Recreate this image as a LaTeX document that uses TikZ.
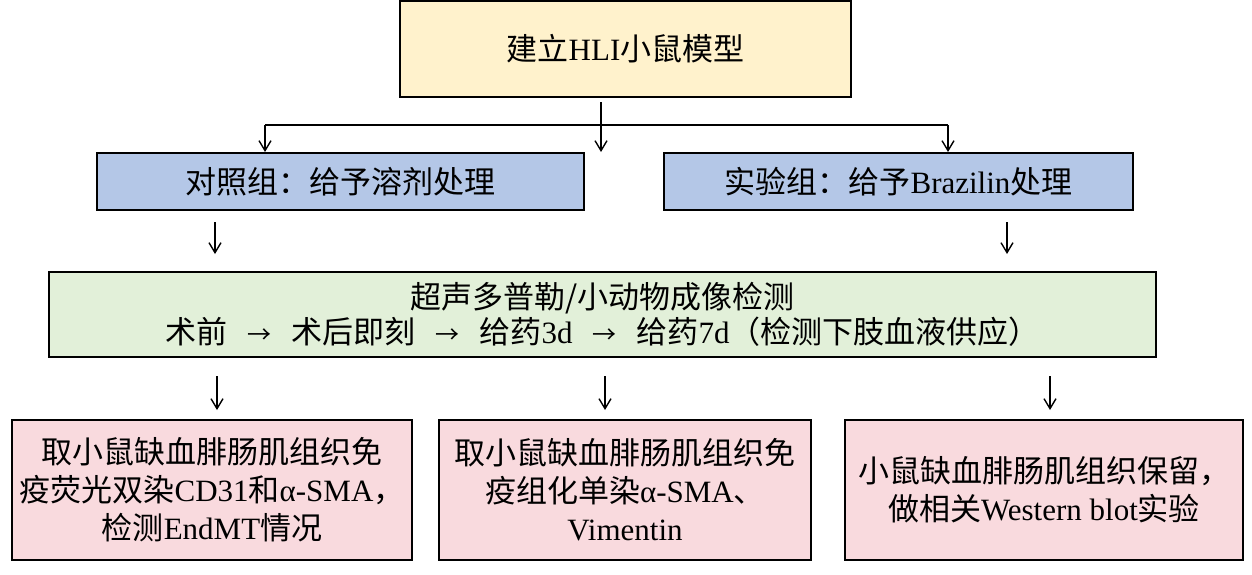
\documentclass[tikz,border=0pt]{standalone}
\usepackage{fontspec}
\setmainfont{Liberation Serif}
\newfontfamily\cjk{Noto Sans CJK SC}
\usetikzlibrary{arrows.meta}
\newcommand\C[1]{{\cjk #1}}
\newcommand\Arr{\hspace{10pt}{\fontsize{12pt}{12pt}\selectfont\cjk →}\hspace{10pt}}
\definecolor{topfill}{HTML}{FFF2CC}
\definecolor{bluefill}{HTML}{B4C7E7}
\definecolor{greenfill}{HTML}{E2F0D9}
\definecolor{pinkfill}{HTML}{F9DADE}
\begin{document}
\begin{tikzpicture}[x=0.5pt,y=-0.5pt,
  box/.style={draw=black,line width=1pt,rectangle,inner sep=0pt,align=center,
    font=\fontsize{15.5pt}{19pt}\selectfont},
  conn/.style={line width=0.7pt,-{Straight Barb[length=5pt,width=6pt]}},
  link/.style={line width=0.7pt}]
\useasboundingbox (0,0) rectangle (1252,574);
\node[box,fill=topfill,minimum width=225.5pt,minimum height=48pt] (top) at (625.5,49) {\C{建立}HLI\C{小鼠模型}};
\node[box,fill=bluefill,minimum width=243.5pt,minimum height=28.5pt] (ctrl) at (340.5,181.5) {\C{对照组：给予溶剂处理}};
\node[box,fill=bluefill,minimum width=234.5pt,minimum height=28.5pt] (exp) at (898.5,181.5) {\C{实验组：给予}Brazilin\C{处理}};
\node[box,fill=greenfill,minimum width=553.5pt,minimum height=42.5pt,font=\fontsize{15.5pt}{17.5pt}\selectfont] (img) at (602.5,314.5) {\C{超声多普勒/小动物成像检测}\\\C{术前}\Arr\C{术后即刻}\Arr\C{给药}3d\Arr\C{给药}7d\C{（检测下肢血液供应）}};
\node[box,fill=pinkfill,minimum width=200pt,minimum height=70pt] (p1) at (212,490) {\C{取小鼠缺血腓肠肌组织免}\\\C{疫荧光双染}CD31\C{和}α-SMA\C{，}\\\C{检测}EndMT\C{情况}};
\node[box,fill=pinkfill,minimum width=186pt,minimum height=70pt] (p2) at (625,490) {\C{取小鼠缺血腓肠肌组织免}\\\C{疫组化单染}α-SMA\C{、}\\Vimentin};
\node[box,fill=pinkfill,minimum width=199pt,minimum height=70pt] (p3) at (1044,490) {\C{小鼠缺血腓肠肌组织保留，}\\\C{做相关}Western blot\C{实验}};
% top split
\coordinate (s0) at (601,102);
\coordinate (sm) at (601,125);
\coordinate (sl) at (265,125);
\coordinate (sr) at (948,125);
\coordinate (tl) at (265,152);
\coordinate (tm) at (601,152);
\coordinate (tr) at (948,152);
\draw[link] (sl) -- (sr);
\draw[conn] (s0) -- (tm);
\draw[conn] (sl) -- (tl);
\draw[conn] (sr) -- (tr);
% blue to green
\coordinate (a1) at (215,222);
\coordinate (b1) at (215,254);
\coordinate (a2) at (1007,222);
\coordinate (b2) at (1007,254);
\draw[conn] (a1) -- (b1);
\draw[conn] (a2) -- (b2);
% green to pink
\coordinate (c1) at (217,376);
\coordinate (d1) at (217,410);
\coordinate (c2) at (605,376);
\coordinate (d2) at (605,410);
\coordinate (c3) at (1050,376);
\coordinate (d3) at (1050,410);
\draw[conn] (c1) -- (d1);
\draw[conn] (c2) -- (d2);
\draw[conn] (c3) -- (d3);
\end{tikzpicture}
\end{document}
